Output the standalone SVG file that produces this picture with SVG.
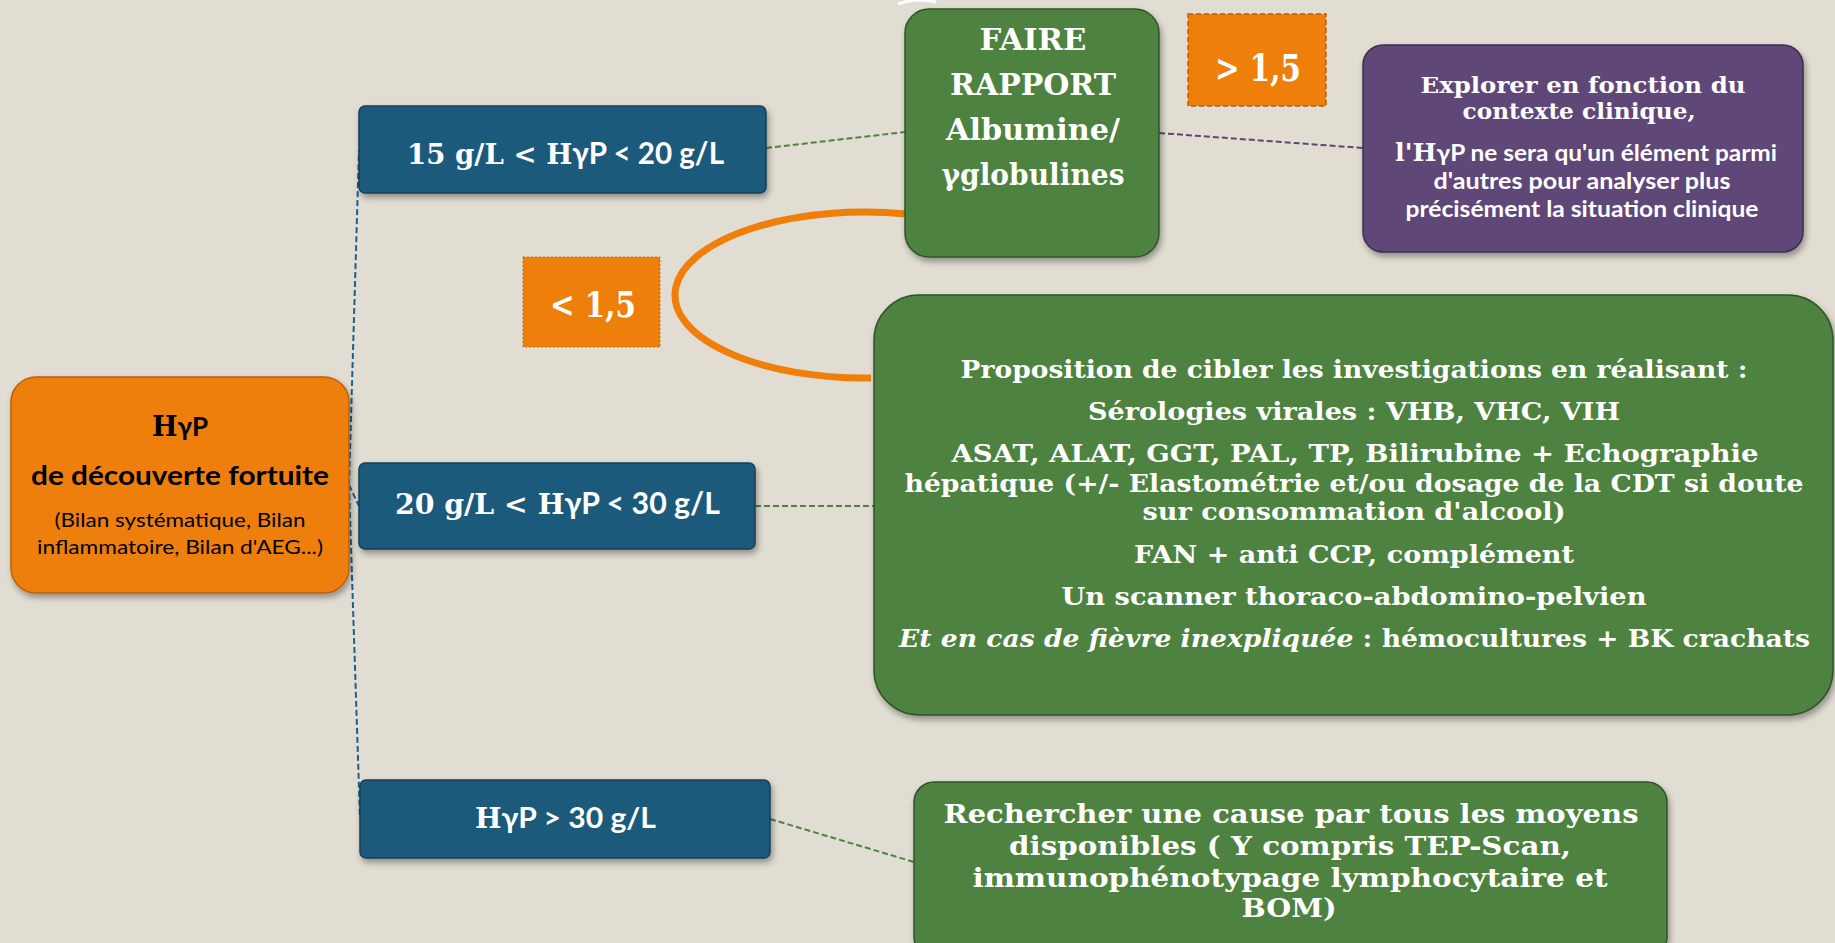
<svg xmlns="http://www.w3.org/2000/svg" width="1835" height="943" viewBox="0 0 1835 943">
<defs>
<filter id="sh" x="-10%" y="-10%" width="125%" height="130%">
<feDropShadow dx="2" dy="4" stdDeviation="3" flood-color="#000" flood-opacity="0.35"/>
</filter>
<style>
.serif{font-family:"DejaVu Serif","Liberation Serif",serif;font-weight:bold;}
.sans{font-family:Lato,"Liberation Sans",sans-serif;font-weight:bold;}
.reg{font-weight:normal;}
.w{fill:#ffffff;}
.k{fill:#000000;}
.blue{fill:#1d5a7b;stroke:#163f57;stroke-width:1.5;}
.green{fill:#4e8241;stroke:#2e5428;stroke-width:1.5;}
.orange{fill:#ef7f0b;}
.purple{fill:#5f4677;stroke:#3f2d52;stroke-width:1.5;}
.c-blue{fill:none;stroke:#1f5f8b;stroke-width:2;stroke-dasharray:6 3;}
.c-green{fill:none;stroke:#4e8241;stroke-width:2;stroke-dasharray:6 3;}
.c-purple{fill:none;stroke:#5f4677;stroke-width:2;stroke-dasharray:6 3;}
</style>
</defs>
<rect x="0" y="0" width="1835" height="943" fill="#e2ddd2"/>
<path d="M 898 4 Q 917 -3 936 2" fill="none" stroke="#ffffff" stroke-width="3"/>

<g id="connectors">
<path class="c-blue" d="M 349 485 L 359 150"/>
<path class="c-blue" d="M 349 485 L 359 506"/>
<path class="c-blue" d="M 349 485 L 360 819"/>
<path class="c-green" d="M 766 148 L 905 132"/>
<path class="c-purple" d="M 1159 133 L 1363 148"/>
<path class="c-green" d="M 755 506 L 874 506"/>
<path class="c-green" d="M 770 819 L 914 862"/>
<path d="M 906 214 A 190 83 0 1 0 871 378" fill="none" stroke="#ef7f0b" stroke-width="7"/>
</g>

<g id="root">
<rect x="11" y="377" width="338" height="216" rx="25" class="orange" stroke="#b8600a" stroke-width="1.5" filter="url(#sh)"/>
<text x="180" y="436" text-anchor="middle" class="k"><tspan class="serif" font-size="27">H</tspan><tspan class="sans" font-size="26">γP</tspan></text>
<text x="180" y="485" text-anchor="middle" class="sans k" font-size="26" textLength="298" lengthAdjust="spacingAndGlyphs">de découverte fortuite</text>
<text x="180" y="527" text-anchor="middle" class="sans reg k" font-size="19" textLength="251" lengthAdjust="spacingAndGlyphs">(Bilan systématique, Bilan</text>
<text x="180" y="554" text-anchor="middle" class="sans reg k" font-size="19" textLength="286" lengthAdjust="spacingAndGlyphs">inflammatoire, Bilan d'AEG...)</text>
</g>

<g id="b1">
<rect x="359" y="106" width="407" height="87" rx="6" class="blue" filter="url(#sh)"/>
<text x="407" y="164" class="w" textLength="317" lengthAdjust="spacingAndGlyphs"><tspan class="serif" font-size="28">15 g/L &lt; H</tspan><tspan class="sans" font-size="30">γP  &lt; 20 g/L</tspan></text>
</g>

<g id="b2">
<rect x="359" y="463" width="396" height="86" rx="6" class="blue" filter="url(#sh)"/>
<text x="395" y="514" class="w" textLength="325" lengthAdjust="spacingAndGlyphs"><tspan class="serif" font-size="28">20 g/L &lt; H</tspan><tspan class="sans" font-size="30">γP  &lt; 30 g/L</tspan></text>
</g>

<g id="b3">
<rect x="360" y="780" width="410" height="78" rx="6" class="blue" filter="url(#sh)"/>
<text x="475" y="828" class="w" textLength="181" lengthAdjust="spacingAndGlyphs"><tspan class="serif" font-size="27">H</tspan><tspan class="sans" font-size="29">γP  &gt; 30 g/L</tspan></text>
</g>

<g id="ratio">
<rect x="905" y="9" width="254" height="248" rx="24" class="green" filter="url(#sh)"/>
<text x="1033" y="50" text-anchor="middle" class="serif w" font-size="29" textLength="107" lengthAdjust="spacingAndGlyphs">FAIRE</text>
<text x="1033" y="95" text-anchor="middle" class="serif w" font-size="29" textLength="166" lengthAdjust="spacingAndGlyphs">RAPPORT</text>
<text x="1033" y="140" text-anchor="middle" class="serif w" font-size="29" textLength="174" lengthAdjust="spacingAndGlyphs">Albumine/</text>
<text x="1033" y="185" text-anchor="middle" class="serif w" font-size="29" textLength="183" lengthAdjust="spacingAndGlyphs">γglobulines</text>
</g>

<g id="gt15">
<rect x="1188" y="14" width="138" height="92" class="orange" stroke="#b55f10" stroke-width="1.5" stroke-dasharray="5 3"/>
<text x="1258" y="81" text-anchor="middle" class="serif w" font-size="37" textLength="86" lengthAdjust="spacingAndGlyphs">&gt; 1,5</text>
</g>

<g id="lt15">
<rect x="523" y="257" width="137" height="90" class="orange" stroke="#c8690d" stroke-width="1" stroke-dasharray="2 2"/>
<text x="593" y="317" text-anchor="middle" class="serif w" font-size="35" textLength="86" lengthAdjust="spacingAndGlyphs">&lt; 1,5</text>
</g>

<g id="explore">
<rect x="1363" y="45" width="440" height="207" rx="20" class="purple" filter="url(#sh)"/>
<text x="1583" y="93" text-anchor="middle" class="serif w" font-size="23" textLength="325" lengthAdjust="spacingAndGlyphs">Explorer en fonction du</text>
<text x="1579" y="119" text-anchor="middle" class="serif w" font-size="23" textLength="233" lengthAdjust="spacingAndGlyphs">contexte clinique,</text>
<text x="1395" y="161" class="w" textLength="382" lengthAdjust="spacingAndGlyphs"><tspan class="serif" font-size="24">l'H</tspan><tspan class="sans" font-size="23">γP ne sera qu'un élément parmi</tspan></text>
<text x="1582" y="189" text-anchor="middle" class="sans w" font-size="23" textLength="297" lengthAdjust="spacingAndGlyphs">d'autres pour analyser plus</text>
<text x="1582" y="217" text-anchor="middle" class="sans w" font-size="23" textLength="353" lengthAdjust="spacingAndGlyphs">précisément la situation clinique</text>
</g>

<g id="investigations">
<rect x="874" y="295" width="959" height="420" rx="45" class="green" filter="url(#sh)"/>
<text x="1354" y="378" text-anchor="middle" class="serif w" font-size="24" textLength="787" lengthAdjust="spacingAndGlyphs">Proposition de cibler les investigations en réalisant :</text>
<text x="1354" y="420" text-anchor="middle" class="serif w" font-size="24" textLength="532" lengthAdjust="spacingAndGlyphs">Sérologies virales : VHB, VHC, VIH</text>
<text x="1355" y="462" text-anchor="middle" class="serif w" font-size="24" textLength="807" lengthAdjust="spacingAndGlyphs">ASAT, ALAT, GGT, PAL, TP, Bilirubine + Echographie</text>
<text x="1354" y="492" text-anchor="middle" class="serif w" font-size="24" textLength="899" lengthAdjust="spacingAndGlyphs">hépatique (+/- Elastométrie et/ou dosage de la CDT si doute</text>
<text x="1354" y="520" text-anchor="middle" class="serif w" font-size="24" textLength="423" lengthAdjust="spacingAndGlyphs">sur consommation d'alcool)</text>
<text x="1354" y="563" text-anchor="middle" class="serif w" font-size="24" textLength="440" lengthAdjust="spacingAndGlyphs">FAN + anti CCP, complément</text>
<text x="1354" y="605" text-anchor="middle" class="serif w" font-size="24" textLength="585" lengthAdjust="spacingAndGlyphs">Un scanner thoraco-abdomino-pelvien</text>
<text x="899" y="647" class="w" textLength="911" lengthAdjust="spacingAndGlyphs"><tspan class="serif" font-weight="normal" font-style="italic" font-size="24">Et en cas de fièvre inexpliquée</tspan><tspan class="serif" font-size="24"> : hémocultures + BK crachats</tspan></text>
</g>

<g id="cause">
<rect x="914" y="782" width="753" height="175" rx="20" class="green" filter="url(#sh)"/>
<text x="1291" y="823" text-anchor="middle" class="serif w" font-size="26" textLength="695" lengthAdjust="spacingAndGlyphs">Rechercher une cause par tous les moyens</text>
<text x="1290" y="855" text-anchor="middle" class="serif w" font-size="26" textLength="562" lengthAdjust="spacingAndGlyphs">disponibles ( Y compris TEP-Scan,</text>
<text x="1290" y="887" text-anchor="middle" class="serif w" font-size="26" textLength="635" lengthAdjust="spacingAndGlyphs">immunophénotypage lymphocytaire et</text>
<text x="1289" y="917" text-anchor="middle" class="serif w" font-size="26" textLength="95" lengthAdjust="spacingAndGlyphs">BOM)</text>
</g>
</svg>
